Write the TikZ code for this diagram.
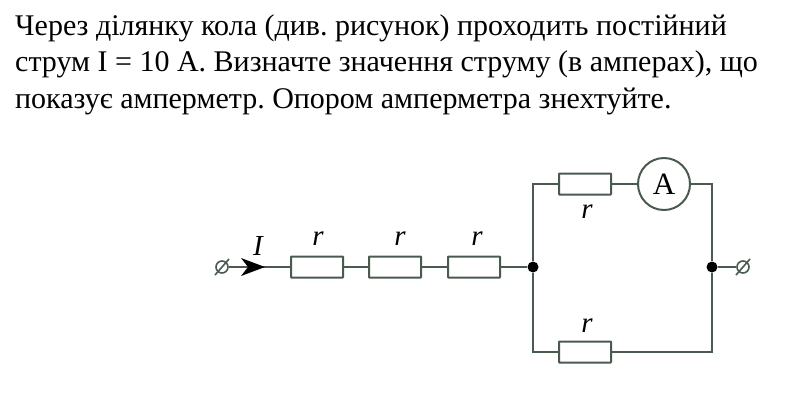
\documentclass[tikz,border=0pt]{standalone}
\usepackage{fontspec}
\setmainfont{Liberation Serif}
\usetikzlibrary{arrows.meta}
\definecolor{wire}{RGB}{75,90,78}
\tikzset{
  wireline/.style={draw=wire,line width=2pt},
  res/.style={draw=wire,line width=2pt,fill=white,minimum width=52pt,minimum height=21pt,inner sep=0pt,rounded corners=0.5pt},
  dot/.style={circle,fill=black,minimum size=11pt,inner sep=0pt},
  term/.style={circle,draw=wire,line width=1.6pt,minimum size=12pt,inner sep=0pt},
  amp/.style={circle,draw=wire,line width=2pt,fill=white,minimum size=52pt,inner sep=0pt,font=\fontsize{31}{31}\selectfont},
  lab/.style={font=\fontsize{29}{29}\selectfont\itshape,inner sep=0pt,anchor=base},
  txt/.style={font=\fontsize{30}{30}\selectfont\frenchspacing,inner sep=0pt,anchor=base west,text=black}
}
\begin{document}
\begin{tikzpicture}[x=1pt,y=-1pt]
\useasboundingbox (0,0) rectangle (800,400);
\node[txt] (t1) at (15,35.5) {Через ділянку кола (див. рисунок) проходить постійний};
\node[txt] (t2) at (15,71) {струм I = 10 А. Визначте значення струму (в амперах), що};
\node[txt] (t3) at (15,108) {показує амперметр. Опором амперметра знехтуйте.};
\node[res] (r1) at (317,267) {};
\node[res] (r2) at (395,267) {};
\node[res] (r3) at (474,267) {};
\node[res] (r4) at (585,184) {};
\node[res] (r5) at (585,352) {};
\node[amp] (am) at (664,184) {A};
\node[dot] (jl) at (533,267) {};
\node[dot] (jr) at (712,267) {};
\node[term] (tl) at (222,267) {};
\node[term] (tr) at (743,267) {};
\coordinate (tla) at (533,184);
\coordinate (tlb) at (533,352);
\coordinate (tra) at (712,184);
\coordinate (trb) at (712,352);
\draw[wireline] (tl) -- (r1);
\draw[wireline] (r1) -- (r2);
\draw[wireline] (r2) -- (r3);
\draw[wireline] (r3) -- (jl);
\draw[wireline] (jl) -- (tla) -- (r4);
\draw[wireline] (r4) -- (am);
\draw[wireline] (am) -- (tra) -- (jr);
\draw[wireline] (jl) -- (tlb) -- (r5);
\draw[wireline] (r5) -- (trb) -- (jr);
\draw[wireline] (jr) -- (tr);
\draw[wire,line width=1.6pt] (215,275) -- (229,259);
\draw[wire,line width=1.6pt] (736,275) -- (750,259);
\fill[black] (265,267) -- (241,258) -- (248,267) -- (241,276) -- cycle;
\node[lab] (li) at (258,255) {I};
\node[lab] (l1) at (318,245) {r};
\node[lab] (l2) at (400,245) {r};
\node[lab] (l3) at (477,245) {r};
\node[lab] (l4) at (587,218) {r};
\node[lab] (l5) at (587,332) {r};
\end{tikzpicture}
\end{document}
